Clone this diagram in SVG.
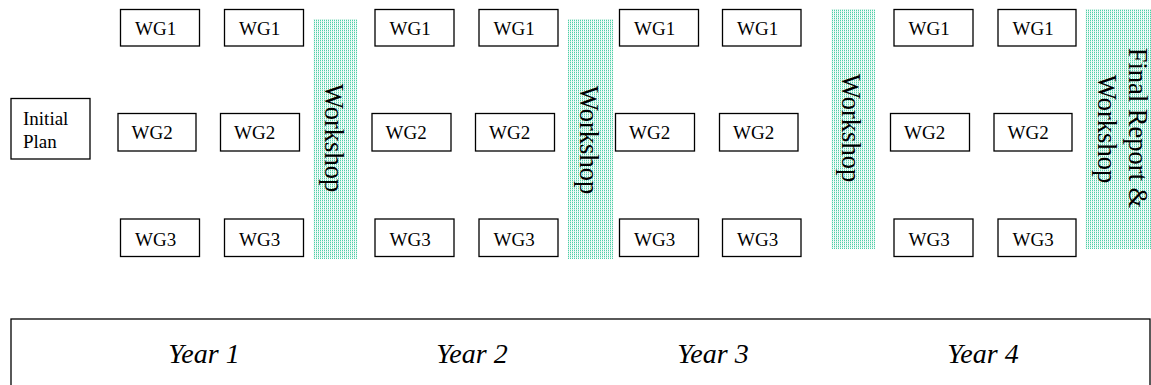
<svg xmlns="http://www.w3.org/2000/svg" width="1151" height="385" viewBox="0 0 1151 385">
<style>
.box{fill:#fff;stroke:#000;stroke-width:1.3}
.t{font-family:'Liberation Serif','DejaVu Serif',serif;font-size:19px;fill:#000}
.ws{font-family:'Liberation Serif','DejaVu Serif',serif;font-size:26.5px;fill:#000;text-anchor:middle}
.yr{font-family:'Liberation Serif','DejaVu Serif',serif;font-size:28px;font-style:italic;fill:#000;text-anchor:middle}
.bar{fill:url(#dots)}
</style>
<defs>
<pattern id="dots" width="2" height="2" patternUnits="userSpaceOnUse">
<rect width="2" height="2" fill="#ffffff"/>
<rect width="1" height="1" fill="#4fcfa8"/>
<rect y="1" width="1" height="1" fill="#c4eee0"/>
<rect x="1" y="1" width="1" height="1" fill="#eefaf6"/>
</pattern>
</defs>
<g id="connectors"/>
<g id="initial-plan">
<rect class="box" x="11" y="98.5" width="79" height="60.5"/>
<text class="t" x="23" y="124.5">Initial</text>
<text class="t" x="23" y="148">Plan</text>
</g>
<g id="workshop1"><rect class="bar" x="313" y="19" width="44" height="240"/><text class="ws" transform="translate(325,138) rotate(90)">Workshop</text></g>
<g id="workshop2"><rect class="bar" x="568" y="19" width="45" height="240"/><text class="ws" transform="translate(580,140) rotate(90)">Workshop</text></g>
<g id="workshop3"><rect class="bar" x="831" y="9" width="44" height="240"/><text class="ws" transform="translate(842,128) rotate(90)">Workshop</text></g>
<g id="final-workshop"><rect class="bar" x="1085" y="9" width="66" height="240"/><text class="ws" transform="translate(1128.5,128) rotate(90)">Final Report &amp;</text><text class="ws" transform="translate(1098,129) rotate(90)">Workshop</text></g>
<g id="wg1-1"><rect class="box" x="120.5" y="9.5" width="79" height="36.5"/><text class="t" x="135" y="35">WG1</text></g>
<g id="wg1-2"><rect class="box" x="224.5" y="9.5" width="79" height="36.5"/><text class="t" x="239" y="35">WG1</text></g>
<g id="wg1-3"><rect class="box" x="375" y="9.5" width="79" height="36.5"/><text class="t" x="389.5" y="35">WG1</text></g>
<g id="wg1-4"><rect class="box" x="479" y="9.5" width="79" height="36.5"/><text class="t" x="493.5" y="35">WG1</text></g>
<g id="wg1-5"><rect class="box" x="619.5" y="9.5" width="79" height="36.5"/><text class="t" x="634" y="35">WG1</text></g>
<g id="wg1-6"><rect class="box" x="722.5" y="9.5" width="78.5" height="36.5"/><text class="t" x="737" y="35">WG1</text></g>
<g id="wg1-7"><rect class="box" x="894" y="9.5" width="79" height="36.5"/><text class="t" x="908.5" y="35">WG1</text></g>
<g id="wg1-8"><rect class="box" x="998" y="9.5" width="78" height="36.5"/><text class="t" x="1012.5" y="35">WG1</text></g>
<g id="wg2-1"><rect class="box" x="118" y="113.5" width="78" height="37.5"/><text class="t" x="131.5" y="139">WG2</text></g>
<g id="wg2-2"><rect class="box" x="220.5" y="113.5" width="79" height="37.5"/><text class="t" x="234" y="139">WG2</text></g>
<g id="wg2-3"><rect class="box" x="372" y="113.5" width="79" height="37.5"/><text class="t" x="385.5" y="139">WG2</text></g>
<g id="wg2-4"><rect class="box" x="475.5" y="113.5" width="79" height="37.5"/><text class="t" x="489" y="139">WG2</text></g>
<g id="wg2-5"><rect class="box" x="615.5" y="113.5" width="79" height="37.5"/><text class="t" x="629" y="139">WG2</text></g>
<g id="wg2-6"><rect class="box" x="719.5" y="113.5" width="78.5" height="37.5"/><text class="t" x="733" y="139">WG2</text></g>
<g id="wg2-7"><rect class="box" x="890.5" y="113.5" width="79" height="37.5"/><text class="t" x="904" y="139">WG2</text></g>
<g id="wg2-8"><rect class="box" x="994" y="113.5" width="78" height="37.5"/><text class="t" x="1007.5" y="139">WG2</text></g>
<g id="wg3-1"><rect class="box" x="120.5" y="219" width="79" height="37.5"/><text class="t" x="135" y="245.5">WG3</text></g>
<g id="wg3-2"><rect class="box" x="224.5" y="219" width="79" height="37.5"/><text class="t" x="239" y="245.5">WG3</text></g>
<g id="wg3-3"><rect class="box" x="375" y="219" width="79" height="37.5"/><text class="t" x="389.5" y="245.5">WG3</text></g>
<g id="wg3-4"><rect class="box" x="479" y="219" width="79" height="37.5"/><text class="t" x="493.5" y="245.5">WG3</text></g>
<g id="wg3-5"><rect class="box" x="619.5" y="219" width="79" height="37.5"/><text class="t" x="634" y="245.5">WG3</text></g>
<g id="wg3-6"><rect class="box" x="722.5" y="219" width="78.5" height="37.5"/><text class="t" x="737" y="245.5">WG3</text></g>
<g id="wg3-7"><rect class="box" x="894" y="219" width="79" height="37.5"/><text class="t" x="908.5" y="245.5">WG3</text></g>
<g id="wg3-8"><rect class="box" x="998" y="219" width="78" height="37.5"/><text class="t" x="1012.5" y="245.5">WG3</text></g>
<g id="timeline">
<rect class="box" x="11" y="319" width="1139" height="80"/>
<text class="yr" x="204" y="363">Year 1</text>
<text class="yr" x="472" y="363">Year 2</text>
<text class="yr" x="713" y="363">Year 3</text>
<text class="yr" x="983" y="363">Year 4</text>
</g>
</svg>
